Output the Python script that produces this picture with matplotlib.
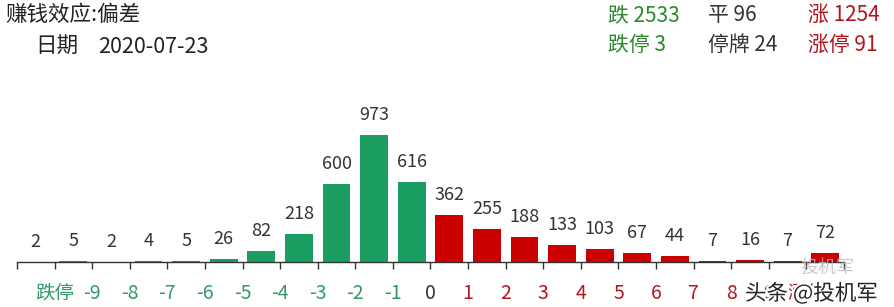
import matplotlib
matplotlib.use("Agg")
import matplotlib.pyplot as plt
import matplotlib.patheffects as pe

plt.rcParams['font.family'] = ['Noto Sans CJK SC', 'DejaVu Sans']

values = [2, 5, 2, 4, 5, 26, 82, 218, 600, 973, 616, 362, 255, 188, 133, 103, 67, 44, 7, 16, 7, 72]
tick_labels = ['跌停', '-9', '-8', '-7', '-6', '-5', '-4', '-3', '-2', '-1', '0',
               '1', '2', '3', '4', '5', '6', '7', '8', '9', '涨停']
title = '赚钱效应:偏差'
date_label = '日期'
date_value = '2020-07-23'
stats_row1 = [('跌 2533', 'green'), ('平 96', 'gray'), ('涨 1254', 'red')]
stats_row2 = [('跌停 3', 'green'), ('停牌 24', 'gray'), ('涨停 91', 'red')]

GREEN_BAR = '#1c9e62'
RED_BAR = '#cc0000'
GREEN_TXT = '#2f9a66'
RED_TXT = '#b5161d'
STAT_COL = {'green': '#2a8a2a', 'gray': '#333333', 'red': '#b0141c'}

W, H = 894, 307
fig = plt.figure(figsize=(W / 100, H / 100), dpi=100)
ax = fig.add_axes([17 / W, (H - 262) / H, 827 / W, 130.5 / H])
ax.set_xlim(0, len(values))
ax.set_ylim(0, 1000)

xs = [i + 0.5 for i in range(len(values))]
colors = [GREEN_BAR if i <= 10 else RED_BAR for i in range(len(values))]
ax.bar(xs, values, width=0.74, color=colors)
for x, v in zip(xs, values):
    ax.annotate(str(v), (x, v), xytext=(0, 10.8), textcoords='offset points',
                ha='center', va='baseline', fontsize=13, color='#333333')

for s in ['top', 'right', 'left']:
    ax.spines[s].set_visible(False)
ax.spines['bottom'].set_color('#333333')
ax.spines['bottom'].set_linewidth(1)
ax.set_yticks([])
ax.set_xticks(range(len(values) + 1))
ax.set_xticklabels([''] + tick_labels + [''], fontsize=14)
ax.tick_params(axis='x', length=5, width=1, color='#333333', pad=10)
for i, lab in enumerate(ax.get_xticklabels()):
    if i == 0 or i > len(tick_labels):
        continue
    if i <= 10:
        lab.set_color(GREEN_TXT)
    elif i == 11:
        lab.set_color('#333333')
    else:
        lab.set_color(RED_TXT)

fig.text(5 / W, 1 - 15 / H, title, fontsize=15.5, color='#222222', va='center', ha='left')
fig.text(35 / W, 1 - 47 / H, date_label, fontsize=15.5, color='#222222', va='center', ha='left')
fig.text(98 / W, 1 - 47 / H, date_value, fontsize=15.5, color='#222222', va='center', ha='left')

col_x = [608, 708, 808]
for (txt, c), x in zip(stats_row1, col_x):
    fig.text(x / W, 1 - 15 / H, txt, fontsize=15, color=STAT_COL[c], va='center', ha='left')
for (txt, c), x in zip(stats_row2, col_x):
    fig.text(x / W, 1 - 45 / H, txt, fontsize=15, color=STAT_COL[c], va='center', ha='left')

# watermark
fig.text(800 / W, 1 - 268 / H, '投机军', fontsize=13, color='#bbbbbb', va='center', ha='left', alpha=0.8)
fig.text(745 / W, 1 - 294 / H, '头条 @投机军', fontsize=15.5, color='#222222', va='center', ha='left',
         path_effects=[pe.withStroke(linewidth=3, foreground='white')])

fig.savefig('out.png', dpi=100)
